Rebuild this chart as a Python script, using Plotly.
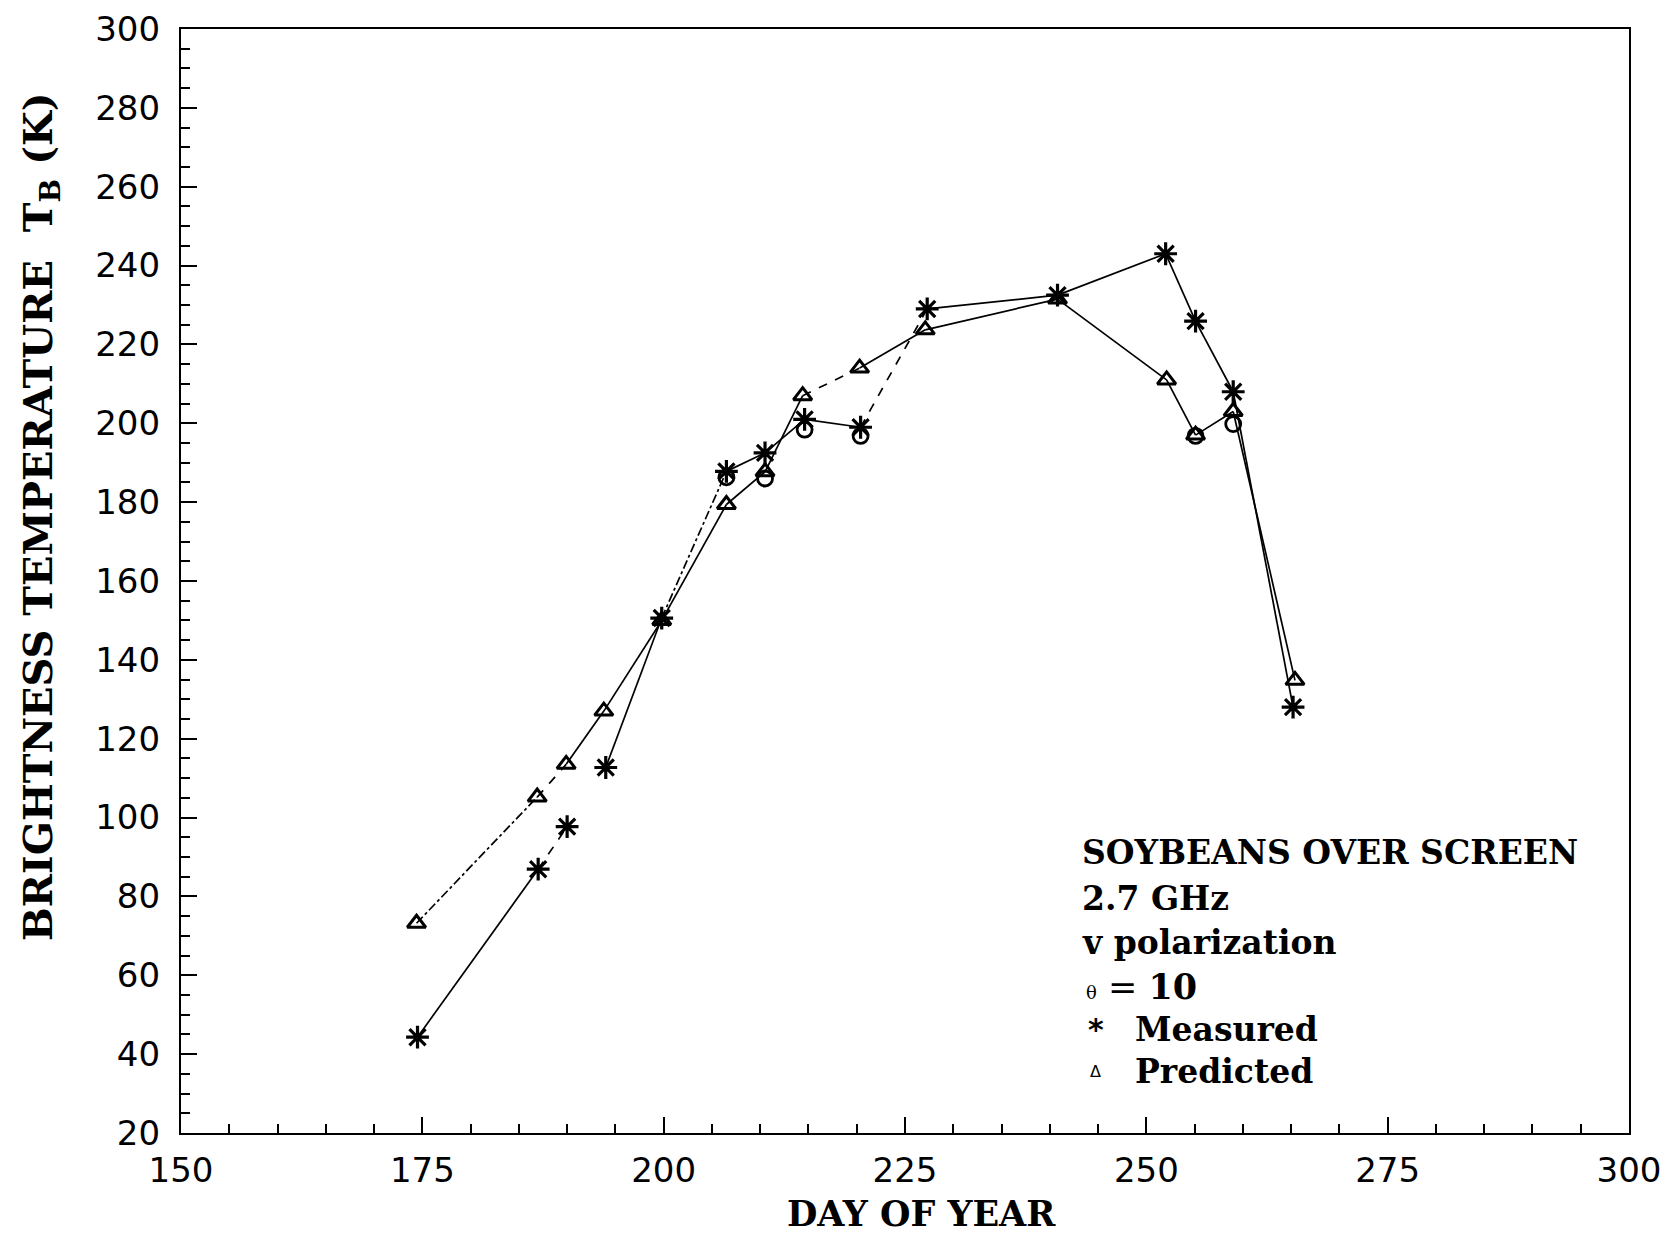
import plotly.graph_objects as go

# ---- data ----
day_measured = [174.5, 187.0, 190.0, 194.0, 199.8, 206.5, 210.5, 214.6, 220.4, 227.3, 240.8, 252.0, 255.1, 259.0, 265.2]
tb_measured  = [44.3, 86.9, 97.7, 112.7, 150.6, 187.8, 192.5, 201.0, 199.0, 229.0, 232.5, 243.0, 225.9, 208.0, 128.0]

day_predicted = [174.4, 186.9, 189.9, 193.8, 199.8, 206.5, 210.5, 214.4, 220.3, 227.1, 240.8, 252.1, 255.1, 259.0, 265.4]
tb_predicted  = [73.2, 105.2, 113.5, 127.0, 150.0, 179.4, 187.7, 207.0, 214.0, 223.7, 231.5, 211.0, 197.0, 203.0, 134.8]

day_circle = [206.5, 210.5, 214.6, 220.4, 255.1, 259.0]
tb_circle  = [186.3, 186.0, 198.4, 196.8, 196.8, 199.8]

x_ticks = [150, 175, 200, 225, 250, 275, 300]
y_ticks = list(range(20, 301, 20))

info_lines = ["SOYBEANS OVER SCREEN", "2.7 GHz", "v polarization"]

# ---- styles ----
measured_seg_dash = ["solid", "dash", None, "solid", "dashdot", "solid", "solid", "solid", "dash",
                     "solid", "solid", "solid", "solid", "solid"]
predicted_seg_dash = ["dashdot", "dash", "solid", "solid", "solid", "solid", "solid", "dash", "solid",
                      "solid", "solid", "solid", "solid", "solid"]

fig = go.Figure()


def add_segments(xs, ys, dashes):
    for i in range(len(xs) - 1):
        d = dashes[i]
        if d is None:
            continue
        fig.add_trace(go.Scatter(x=[xs[i], xs[i + 1]], y=[ys[i], ys[i + 1]], mode="lines",
                                 line=dict(color="black", width=1.7, dash=d),
                                 showlegend=False, hoverinfo="skip"))


add_segments(day_measured, tb_measured, measured_seg_dash)
add_segments(day_predicted, tb_predicted, predicted_seg_dash)

fig.add_trace(go.Scatter(x=day_circle, y=tb_circle, mode="markers", name="circle",
                         marker=dict(symbol="circle-open", size=15, color="black", line=dict(width=2.8)),
                         showlegend=False))
fig.add_trace(go.Scatter(x=day_predicted, y=tb_predicted, mode="markers", name="Predicted",
                         marker=dict(symbol="triangle-up-open", size=16, color="black", line=dict(width=3)),
                         showlegend=False))
fig.add_trace(go.Scatter(x=day_measured, y=tb_measured, mode="markers", name="Measured",
                         marker=dict(symbol="asterisk-open", size=19, color="black", line=dict(width=3.2)),
                         showlegend=False))

tick_font = dict(family="DejaVu Sans", size=34, color="black")
ytitle_font = dict(family="DejaVu Serif", size=40, color="black", weight="bold")
xtitle_font = dict(family="DejaVu Serif", size=35, color="black", weight="bold")

fig.update_xaxes(range=[150, 300], tickvals=x_ticks, ticktext=[str(v) for v in x_ticks],
                 ticks="inside", ticklen=16, tickwidth=2, tickcolor="black",
                 minor=dict(dtick=5, tick0=150, ticks="inside", ticklen=9, tickwidth=2, tickcolor="black"),
                 showline=True, linewidth=2.2, linecolor="black", mirror=True,
                 showgrid=False, zeroline=False, tickfont=tick_font, ticklabelstandoff=6,
                 ticklabeloverflow="allow", automargin=False, title=None)
fig.update_yaxes(range=[20, 300], tickvals=y_ticks, ticktext=[str(v) for v in y_ticks],
                 ticks="inside", ticklen=16, tickwidth=2, tickcolor="black",
                 minor=dict(dtick=5, tick0=20, ticks="inside", ticklen=9, tickwidth=2, tickcolor="black"),
                 showline=True, linewidth=2.2, linecolor="black", mirror=True,
                 showgrid=False, zeroline=False, tickfont=tick_font, ticklabelstandoff=12,
                 ticklabeloverflow="allow", automargin=False, title=None)

# plot-area edges on the page (pixels); text is placed at reference page positions
PT, PB = 29.0, 1133.0
PL, PR = 181.0, 1629.0


def py(yfull):
    return (PB - yfull) / (PB - PT)


def px(xfull):
    return (xfull - PL) / (PR - PL)


ann_font = dict(family="DejaVu Serif", size=33, color="black", weight="bold")

# axis titles
fig.add_annotation(text="<b>BRIGHTNESS TEMPERATURE  T<sub>B</sub> (K)</b>", textangle=-90,
                   xref="paper", yref="paper", x=px(41), y=py(517), xanchor="center", yanchor="middle",
                   showarrow=False, font=ytitle_font)
fig.add_annotation(text="<b>DAY OF YEAR</b>", xref="paper", yref="paper", x=px(921), y=py(1213),
                   xanchor="center", yanchor="middle", showarrow=False, font=xtitle_font)

line_y = [852, 898, 942, 986, 1029, 1071]
for i, t in enumerate(info_lines):
    fig.add_annotation(text=f"<b>{t}</b>", xref="paper", yref="paper", x=px(1080), y=py(line_y[i]),
                       xanchor="left", yanchor="middle", showarrow=False, font=ann_font)
fig.add_annotation(text="<span style='font-size:18px'>θ</span> = <b>10</b>", xref="paper", yref="paper",
                   x=px(1084), y=py(line_y[3]), xanchor="left", yanchor="middle", showarrow=False,
                   font=dict(family="DejaVu Serif", size=35, color="black"))
fig.add_annotation(text="<b>*</b>", xref="paper", yref="paper", x=px(1086), y=py(line_y[4]),
                   xanchor="left", yanchor="middle", showarrow=False,
                   font=dict(family="DejaVu Sans", size=30, color="black"))
fig.add_annotation(text="<b>Measured</b>", xref="paper", yref="paper", x=px(1133), y=py(line_y[4]),
                   xanchor="left", yanchor="middle", showarrow=False, font=ann_font)
fig.add_annotation(text="Δ", xref="paper", yref="paper", x=px(1088), y=py(line_y[5]),
                   xanchor="left", yanchor="middle", showarrow=False,
                   font=dict(family="DejaVu Sans", size=16, color="black"))
fig.add_annotation(text="<b>Predicted</b>", xref="paper", yref="paper", x=px(1133), y=py(line_y[5]),
                   xanchor="left", yanchor="middle", showarrow=False, font=ann_font)

# page body adds an 8px offset; compensate in the margins
OFF = 8
fig.update_layout(width=1671, height=1238, plot_bgcolor="white", paper_bgcolor="white",
                  margin=dict(l=PL - OFF, r=1671 - (PR - OFF), t=PT - OFF, b=1238 - (PB - OFF)),
                  showlegend=False)

fig.write_html("out.html")
